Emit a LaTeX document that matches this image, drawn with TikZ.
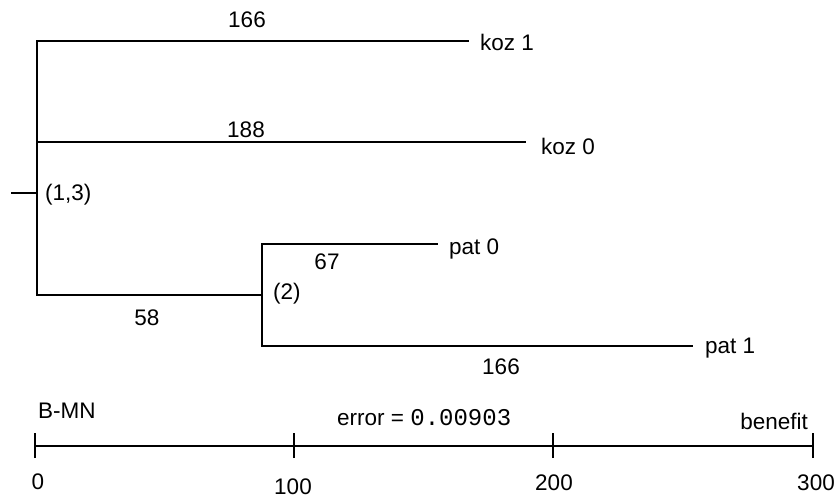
\documentclass[tikz,border=0pt]{standalone}
\usepackage{fontspec}
\setmainfont{Liberation Sans}
\newfontfamily\monofont{Liberation Mono}
\begin{document}
\begin{tikzpicture}[x=1pt,y=-1pt,
  txt/.style={inner sep=0pt,font=\fontsize{22.5}{26}\selectfont},
  leaf/.style={txt,anchor=west},
  branch/.style={line width=1.1pt,line cap=rect},
  tick/.style={line width=1.1pt}]
\useasboundingbox (0,0) rectangle (840,498);
% internal coordinates
\coordinate (stub) at (12,193);
\coordinate (r) at (37,193);
\coordinate (rtop) at (37,41);
\coordinate (rmid) at (37,142);
\coordinate (rbot) at (37,295);
\coordinate (n2) at (262,295);
\coordinate (n2top) at (262,244);
\coordinate (n2bot) at (262,346);
\coordinate (e1) at (468,41);
\coordinate (e2) at (525,142);
\coordinate (e3) at (437,244);
\coordinate (e4) at (692,346);
% leaves
\node[leaf] (koz1) at (480,42) {koz 1};
\node[leaf] (koz0) at (541,146) {koz 0};
\node[leaf] (pat0) at (449,249) {pat 0};
\node[leaf] (pat1) at (705,348) {pat 1};
% branches
\draw[branch] (stub) -- (r);
\draw[branch] (rtop) -- (rbot);
\draw[branch] (rtop) -- (e1);
\draw[branch] (rmid) -- (e2);
\draw[branch] (rbot) -- (n2);
\draw[branch] (n2top) -- (n2bot);
\draw[branch] (n2top) -- (e3);
\draw[branch] (n2bot) -- (e4);
% labels
\node[txt] (l166a) at (247,20) {166};
\node[txt] (l188) at (246,130) {188};
\node[txt] (l58) at (147,318) {58};
\node[txt] (l67) at (327,262) {67};
\node[txt] (l166b) at (501,367) {166};
\node[txt,anchor=west] (l13) at (45,195) {(1,3)};
\node[txt,anchor=west] (l2) at (273,294) {(2)};
% scale
\coordinate (a0) at (35,446);
\coordinate (a1) at (294,446);
\coordinate (a2) at (553,446);
\coordinate (a3) at (813,446);
\draw[branch] (a0) -- (a3);
\foreach \p in {a0,a1,a2,a3}
  \draw[tick] ([yshift=-12pt]\p) -- ([yshift=13pt]\p);
\node[txt] (t0) at (38,482) {0};
\node[txt] (t1) at (293,487) {100};
\node[txt] (t2) at (554,483) {200};
\node[txt] (t3) at (816,483) {300};
\node[txt,anchor=west] (bmn) at (38,411) {B-MN};
\node[txt,anchor=west] (err) at (337,418) {error = {\monofont\fontsize{24}{28}\selectfont 0.00903}};
\node[txt,anchor=east] (ben) at (808,421) {benefit};
\end{tikzpicture}
\end{document}
